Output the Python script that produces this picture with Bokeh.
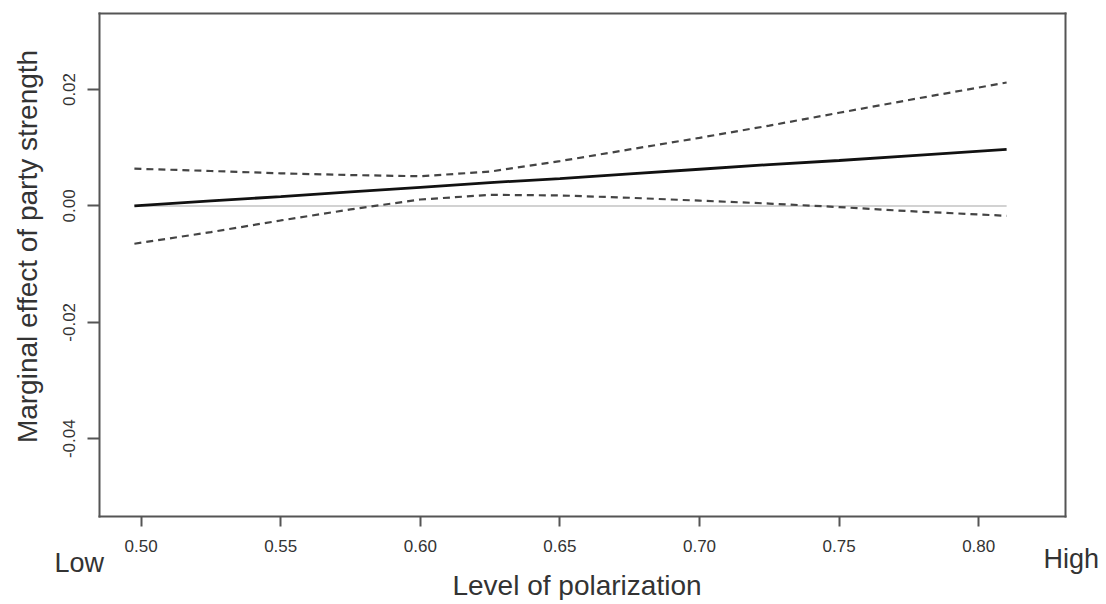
import math
from bokeh.plotting import figure
from bokeh.models import FixedTicker, NumeralTickFormatter, Label, Range1d, LinearAxis
from bokeh.embed import file_html
from bokeh.resources import INLINE

# ---- data ----
polarization = [0.4976, 0.525, 0.55, 0.575, 0.60, 0.625, 0.65, 0.675, 0.70, 0.725, 0.75, 0.775, 0.81]
marginal_effect = [0.0, 0.00085, 0.0016, 0.0024, 0.0032, 0.0040, 0.0047, 0.0055, 0.0063, 0.0071, 0.0078, 0.0086, 0.0097]
upper_ci = [0.0064, 0.0060, 0.0056, 0.0053, 0.0051, 0.0059, 0.0077, 0.0097, 0.0117, 0.0138, 0.0160, 0.0182, 0.0212]
lower_ci = [-0.0065, -0.0045, -0.0025, -0.0006, 0.0011, 0.0019, 0.0018, 0.0014, 0.0009, 0.0004, -0.0002, -0.0009, -0.0017]
zero_x = [0.4976, 0.81]
zero_y = [0.0, 0.0]
x_ticks = [0.50, 0.55, 0.60, 0.65, 0.70, 0.75, 0.80]
y_ticks = [-0.04, -0.02, 0.00, 0.02]

# plotting box (R-style box) in data units
BOX_X = (0.4851, 0.8311)
BOX_Y = (-0.05336, 0.03306)

FONT = "Liberation Sans"
TXT = "#333333"
AX = "#555555"

p = figure(width=1100, height=600, output_backend="svg", toolbar_location=None,
           x_range=Range1d(0.449642, 0.843624), y_range=Range1d(-0.067799, 0.035294),
           min_border=0, min_border_left=0, min_border_right=0, min_border_top=0, min_border_bottom=0,
           x_axis_location=None, y_axis_location=None)
p.xgrid.visible = False
p.ygrid.visible = False
p.background_fill_color = "white"
p.border_fill_color = "white"
p.outline_line_color = None


def style(ax, ticks, labels=True):
    ax.ticker = FixedTicker(ticks=ticks)
    ax.axis_line_color = AX
    ax.axis_line_width = 2
    ax.axis_line_cap = "square"
    ax.major_tick_line_color = AX
    ax.major_tick_line_width = 2
    ax.major_tick_in = 0
    ax.minor_tick_line_color = None
    ax.major_label_text_font = FONT
    ax.major_label_text_font_size = "17px"
    ax.major_label_text_color = TXT if labels else None
    ax.formatter = NumeralTickFormatter(format="0.00")


xaxis = LinearAxis(fixed_location=BOX_Y[0], bounds=BOX_X)
style(xaxis, x_ticks)
xaxis.major_tick_out = 10
xaxis.major_label_standoff = 14
p.add_layout(xaxis, "below")

yaxis = LinearAxis(fixed_location=BOX_X[0], bounds=BOX_Y)
style(yaxis, y_ticks)
yaxis.major_tick_out = 12
yaxis.major_label_standoff = 12
yaxis.major_label_orientation = "vertical"
p.add_layout(yaxis, "left")

top = LinearAxis(fixed_location=BOX_Y[1], bounds=BOX_X)
style(top, [], labels=False)
p.add_layout(top, "above")

right = LinearAxis(fixed_location=BOX_X[1], bounds=BOX_Y)
style(right, [], labels=False)
p.add_layout(right, "right")

# lines
p.line(zero_x, zero_y, line_color="#d2d2d2", line_width=2)
p.line(polarization, upper_ci, line_color="#444444", line_width=2.2, line_dash="7 5")
p.line(polarization, lower_ci, line_color="#444444", line_width=2.2, line_dash="7 5")
p.line(polarization, marginal_effect, line_color="#111111", line_width=2.8)

# labels
p.add_layout(Label(x=0.459312, y=-0.006974, text="Marginal effect of party strength", angle=math.pi / 2,
                   text_align="center", text_baseline="alphabetic", text_font=FONT,
                   text_font_size="28px", text_color=TXT))
p.add_layout(Label(x=0.656125, y=-0.065222, text="Level of polarization", text_align="center",
                   text_baseline="alphabetic", text_font=FONT, text_font_size="28px", text_color=TXT))
p.add_layout(Label(x=0.468983, y=-0.061270, text="Low", text_align="left",
                   text_baseline="alphabetic", text_font=FONT, text_font_size="27px", text_color=TXT))
p.add_layout(Label(x=0.823208, y=-0.060754, text="High", text_align="left",
                   text_baseline="alphabetic", text_font=FONT, text_font_size="27px", text_color=TXT))

open("out.html", "w").write(file_html(p, INLINE))
